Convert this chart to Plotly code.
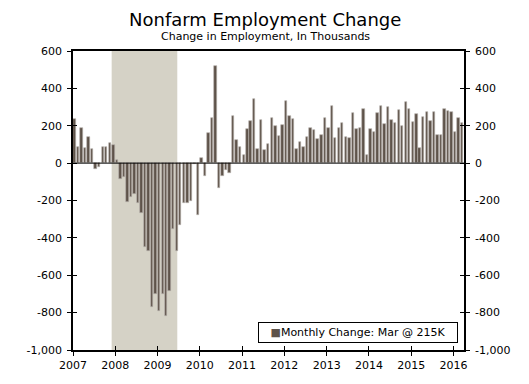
import plotly.graph_objects as go
import pandas as pd

months = pd.date_range("2007-01-01", periods=111, freq="MS") + pd.Timedelta(days=14)

values_2007 = [238, 88, 190, 80, 140, 75, -30, -20, 85, 85, 110, 95]
values_2008 = [15, -85, -75, -210, -180, -165, -215, -265, -450, -470, -770, -700]
values_2009 = [-790, -700, -820, -685, -355, -470, -330, -215, -215, -200, -5, -280]
values_2010 = [25, -70, 160, 240, 519, -135, -70, -37, -55, 250, 123, 84]
values_2011 = [41, 185, 223, 344, 73, 232, 70, 105, 242, 200, 143, 203]
values_2012 = [335, 253, 237, 73, 112, 84, 141, 187, 178, 130, 148, 241]
values_2013 = [187, 308, 132, 189, 216, 141, 136, 266, 184, 187, 287, 41]
values_2014 = [184, 166, 269, 307, 212, 303, 230, 214, 283, 198, 328, 290]
values_2015 = [219, 262, 82, 248, 271, 226, 274, 148, 148, 292, 278, 271]
values_2016 = [166, 242, 215]

values = (values_2007 + values_2008 + values_2009 + values_2010 + values_2011 +
          values_2012 + values_2013 + values_2014 + values_2015 + values_2016)

y_tick_vals = [600, 400, 200, 0, -200, -400, -600, -800, -1000]
y_tick_text = ["600", "400", "200", "0", "-200", "-400", "-600", "-800", "-1,000"]
x_tick_vals = [f"{y}-01-01" for y in range(2007, 2017)]
x_tick_text = [str(y) for y in range(2007, 2017)]
x_range = ["2007-01-01", "2016-04-01"]
y_range = [-1000, 600]

recession_start = "2007-12-01"
recession_end = "2009-06-20"

legend_label = "Monthly Change: Mar @ 215K"

bar_color = "#5e534a"
font_family = "DejaVu Sans"

# page body has an 8px margin; figure is sized to fit inside the 529x384 window
W, H = 513, 368
OFF = 8
ML, MT = 73 - OFF, 51 - OFF
MR = W - (464 - OFF)
MB = H - (350 - OFF)
plot_h = H - MT - MB
plot_w = W - ML - MR


def py(page_y):
    return (H - MB - (page_y - OFF)) / plot_h


def px(page_x):
    return (page_x - OFF - ML) / plot_w


fig = go.Figure()
fig.add_trace(go.Bar(
    x=months, y=values,
    width=21 * 86400000,
    marker=dict(color=bar_color, line=dict(width=0.6, color="#b9b4ae")),
    name=legend_label,
    showlegend=False,
))
# invisible helpers so the overlay axes (crossing tick marks, right axis) are drawn
for xa, ya in [("x", "y2"), ("x", "y3"), ("x", "y4"), ("x2", "y")]:
    fig.add_trace(go.Scatter(x=[months[0]], y=[0], xaxis=xa, yaxis=ya, mode="markers",
                             marker=dict(opacity=0), showlegend=False, hoverinfo="skip"))

fig.add_shape(type="rect", xref="x", yref="paper",
              x0=recession_start, x1=recession_end, y0=0, y1=1,
              fillcolor="#d5d2c6", line=dict(width=0), layer="below")

tickfont = dict(family=font_family, size=11, color="black")

y_label_axis = dict(
    range=y_range, tickvals=y_tick_vals, ticktext=y_tick_text,
    showgrid=False, zeroline=False,
    showline=True, linecolor="black", linewidth=1.5,
    ticks="outside", ticklen=4, tickcolor="black", tickwidth=1.2, automargin=False,
    ticklabelstandoff=3,
    tickfont=tickfont,
)
y_inner_axis = dict(
    range=y_range, tickvals=y_tick_vals, showticklabels=False,
    showgrid=False, zeroline=False, showline=False,
    ticks="inside", ticklen=4, tickcolor="black", tickwidth=1.2, automargin=False,
    overlaying="y",
)

fig.update_layout(
    width=W, height=H,
    margin=dict(l=ML, r=MR, t=MT, b=MB, pad=0),
    paper_bgcolor="white", plot_bgcolor="white",
    font=dict(family=font_family, color="black"),
    bargap=0,
    showlegend=False,
    xaxis=dict(
        type="date", range=x_range,
        tickvals=x_tick_vals, ticktext=x_tick_text,
        showgrid=False, showline=True, linecolor="black", linewidth=1.5,
        mirror=True, automargin=False, zeroline=False,
        ticks="outside", ticklen=4, tickcolor="black", tickwidth=1.2,
        tickfont=tickfont,
    ),
    xaxis2=dict(
        type="date", range=x_range, tickvals=x_tick_vals, showticklabels=False,
        showgrid=False, showline=False, zeroline=False, automargin=False,
        ticks="inside", ticklen=4, tickcolor="black", tickwidth=1.2,
        overlaying="x", side="bottom",
    ),
    yaxis=dict(**y_label_axis, side="left"),
    yaxis2=dict(**y_label_axis, overlaying="y", side="right"),
    yaxis3=dict(**y_inner_axis, side="left"),
    yaxis4=dict(**y_inner_axis, side="right"),
    annotations=[
        dict(text="Nonfarm Employment Change", x=px(265), y=py(19),
             xref="paper", yref="paper", xanchor="center", yanchor="middle",
             showarrow=False, font=dict(size=18, family=font_family)),
        dict(text="Change in Employment, In Thousands", x=px(265), y=py(36),
             xref="paper", yref="paper", xanchor="center", yanchor="middle",
             showarrow=False, font=dict(size=11, family=font_family)),
        dict(text=f"<span style='color:{bar_color}'>■</span>{legend_label}",
             x=px(458), y=py(343),
             xref="paper", yref="paper", xanchor="right", yanchor="bottom",
             showarrow=False, bordercolor="black", borderwidth=1, bgcolor="white",
             width=196, height=17, align="center",
             font=dict(size=11, family=font_family, color="black")),
    ],
)

# zero line drawn across the plot at the 0 value
fig.add_hline(y=0, line=dict(color="black", width=1))

fig.write_html("out.html")
